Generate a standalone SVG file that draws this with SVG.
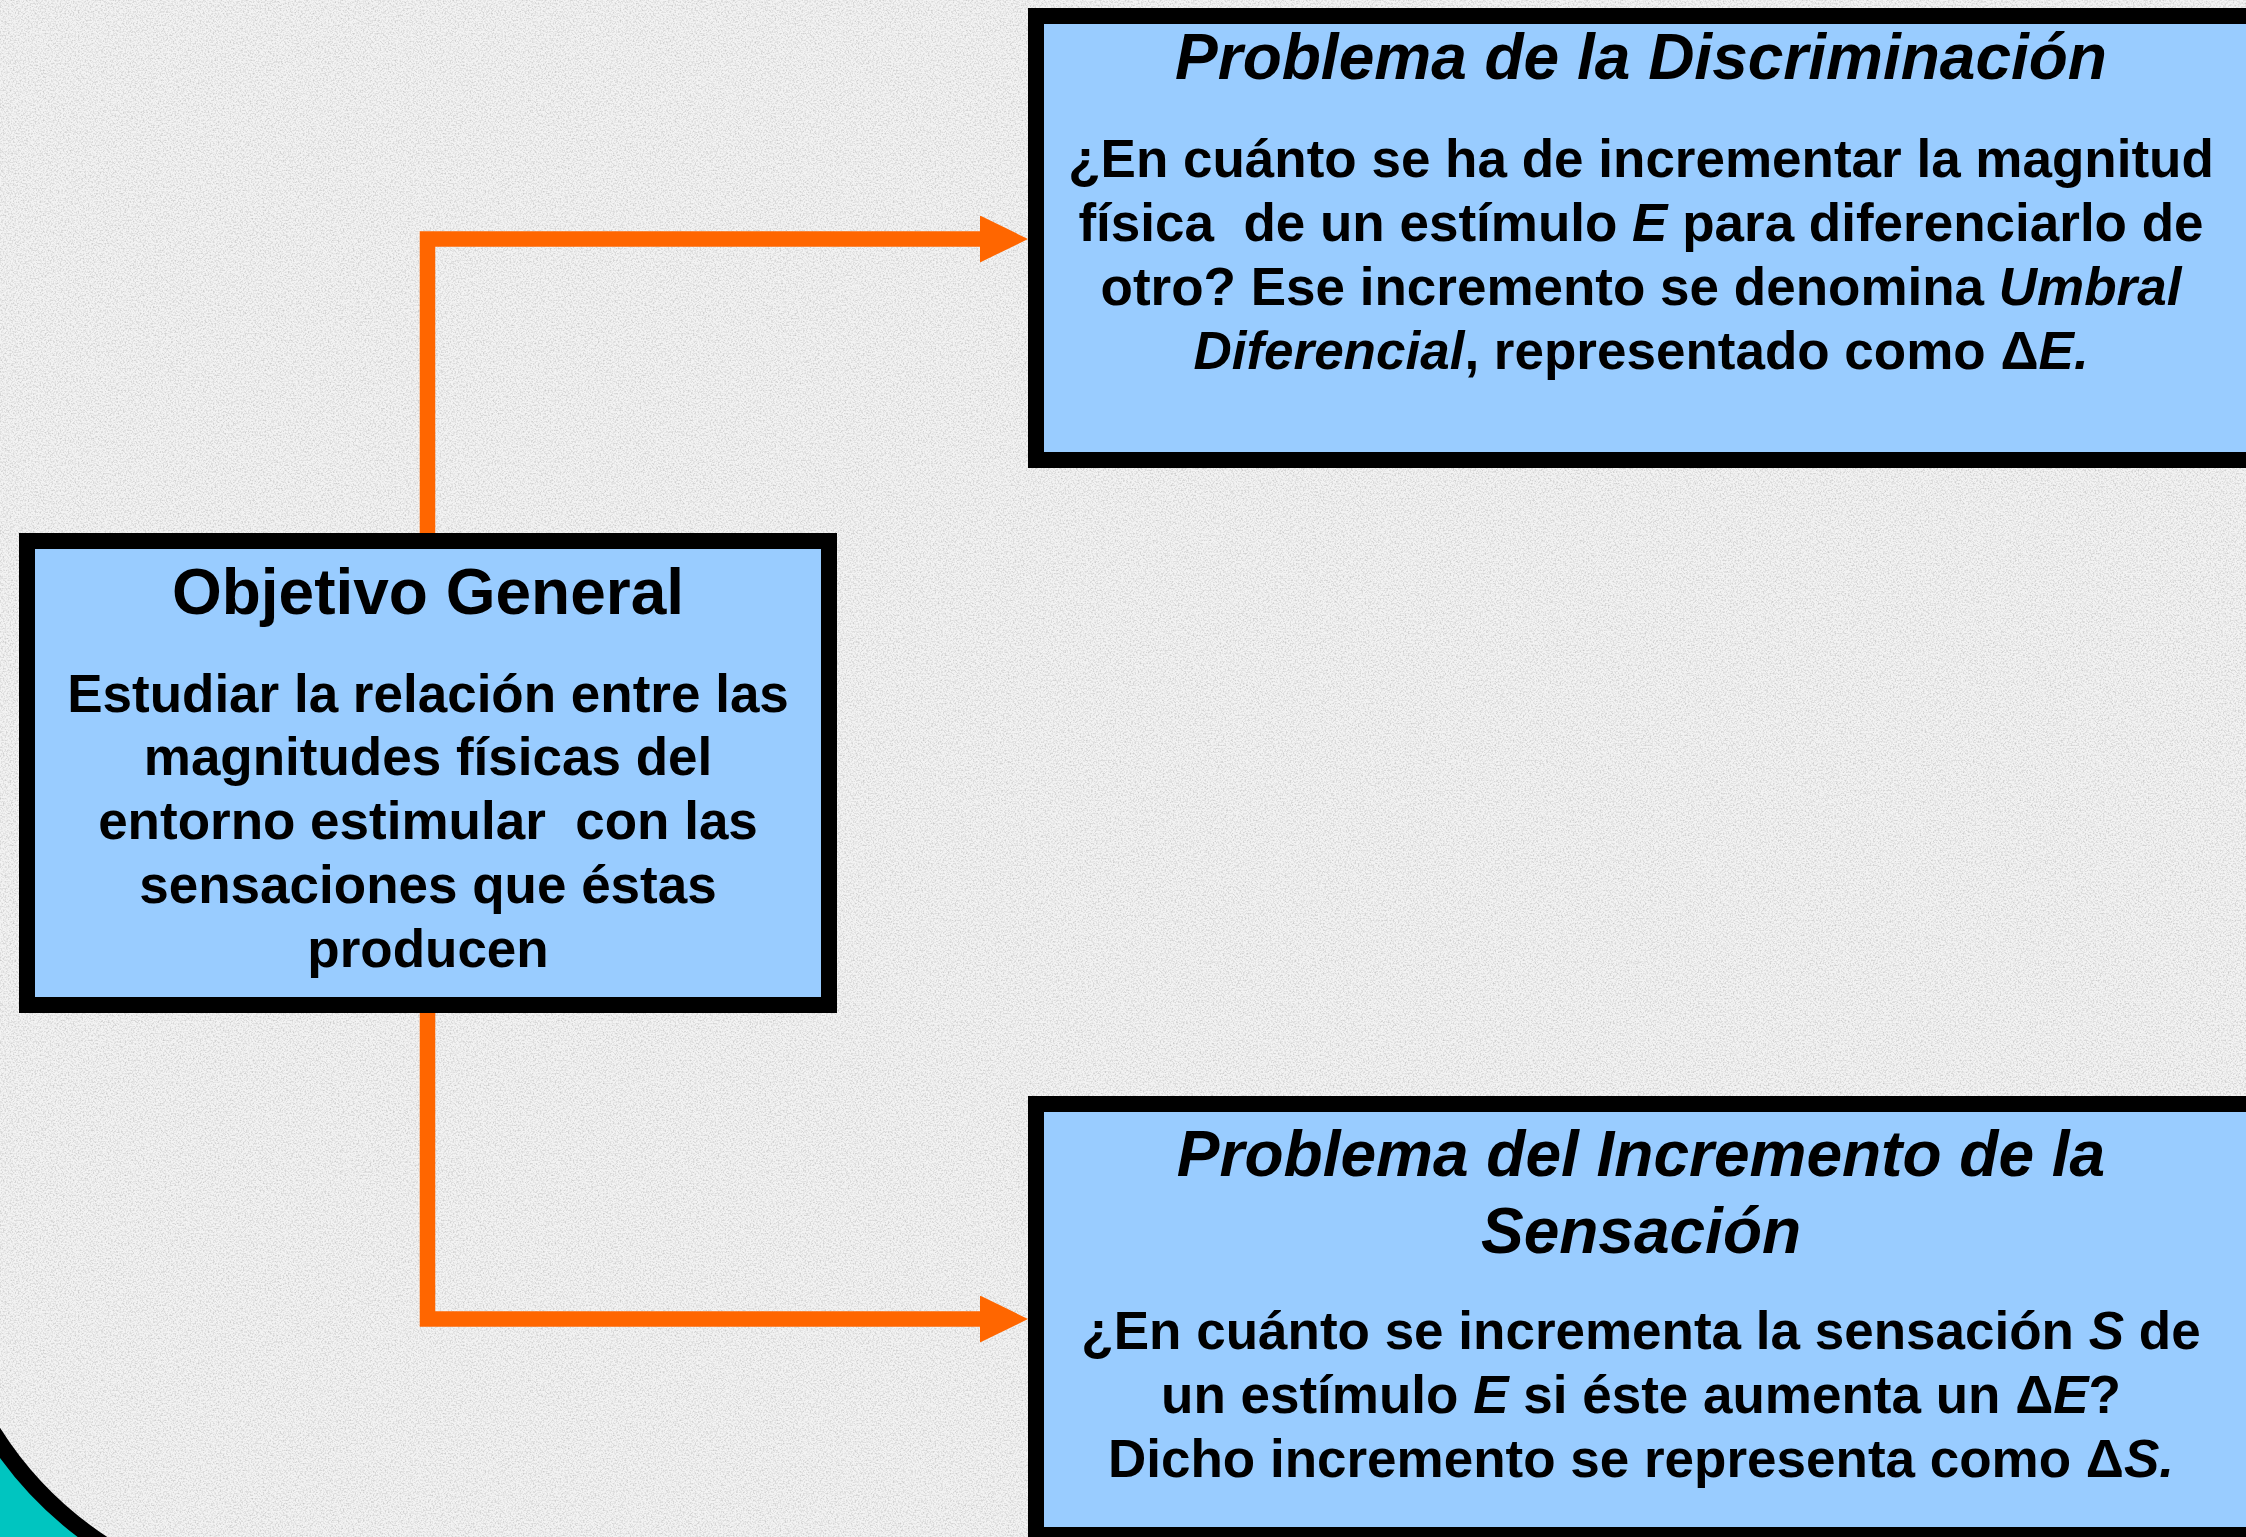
<svg xmlns="http://www.w3.org/2000/svg" width="2246" height="1537" viewBox="0 0 2246 1537">
<style>
.box{fill:#99CCFF;stroke:#000;stroke-width:16}
.t{font-family:"Liberation Sans",Arial,sans-serif;font-weight:bold;fill:#000;text-anchor:middle;white-space:pre}
.ttl{font-size:64px}
.body{font-size:53px}
.i{font-style:italic}
.conn{fill:none;stroke:#FF6600;stroke-width:15.5;stroke-linejoin:miter}
</style>
<defs>
<filter id="grain" filterUnits="userSpaceOnUse" x="0" y="0" width="2246" height="1537">
<feTurbulence type="fractalNoise" baseFrequency="0.6" numOctaves="2" seed="7" result="n"/>
<feColorMatrix in="n" type="matrix" values="0 0 0 0 0.55  0 0 0 0 0.55  0 0 0 0 0.55  2.0 0 0 0 -0.85"/>
</filter>
<marker id="ah" markerUnits="userSpaceOnUse" viewBox="0 0 48 47" markerWidth="48" markerHeight="47" refX="5" refY="23.5" orient="auto">
<path d="M0,0 L48,23.5 L0,47 Z" fill="#FF6600"/>
</marker>
</defs>
<g id="background">
<rect x="0" y="0" width="2246" height="1537" fill="#f3f3f3"/>
<rect x="0" y="0" width="2246" height="1537" fill="#fff" filter="url(#grain)"/>
<path d="M0,1441.8 A368.5,368.5 0 0 0 93.8,1537 L0,1537 Z" fill="#00C5C0"/>
<path d="M-8,1431 A368.5,368.5 0 0 0 104,1545" fill="none" stroke="#000" stroke-width="17"/>
</g>
<g id="connectors">
<polyline class="conn" points="427.5,533 427.5,239 985,239" marker-end="url(#ah)"/>
<polyline class="conn" points="427.5,1013 427.5,1319 985,1319" marker-end="url(#ah)"/>
</g>
<g id="objetivo-general">
<rect class="box" x="27" y="541" width="802" height="464"/>
<text class="t ttl" x="428" y="614">Objetivo General</text>
<text class="t body" x="428" y="712">Estudiar la relación entre las</text>
<text class="t body" x="428" y="775">magnitudes físicas del</text>
<text class="t body" x="428" y="839" xml:space="preserve">entorno estimular  con las</text>
<text class="t body" x="428" y="903">sensaciones que éstas</text>
<text class="t body" x="428" y="967">producen</text>
</g>
<g id="problema-discriminacion">
<rect class="box" x="1036" y="16" width="1218" height="444"/>
<text class="t ttl i" x="1641" y="79">Problema de la Discriminación</text>
<text class="t body" x="1641" y="177">¿En cuánto se ha de incrementar la magnitud</text>
<text class="t body" x="1641" y="241" xml:space="preserve">física  de un estímulo <tspan class="i">E</tspan> para diferenciarlo de</text>
<text class="t body" x="1641" y="305" xml:space="preserve">otro? Ese incremento se denomina <tspan class="i">Umbral</tspan></text>
<text class="t body" x="1641" y="369" xml:space="preserve"><tspan class="i">Diferencial</tspan>, representado como Δ<tspan class="i">E.</tspan></text>
</g>
<g id="problema-incremento">
<rect class="box" x="1036" y="1104" width="1218" height="431"/>
<text class="t ttl i" x="1641" y="1176">Problema del Incremento de la</text>
<text class="t ttl i" x="1641" y="1253">Sensación</text>
<text class="t body" x="1641" y="1349" xml:space="preserve">¿En cuánto se incrementa la sensación <tspan class="i">S</tspan> de</text>
<text class="t body" x="1641" y="1413" xml:space="preserve">un estímulo <tspan class="i">E</tspan> si éste aumenta un Δ<tspan class="i">E</tspan>?</text>
<text class="t body" x="1641" y="1477" xml:space="preserve">Dicho incremento se representa como Δ<tspan class="i">S.</tspan></text>
</g>
</svg>
